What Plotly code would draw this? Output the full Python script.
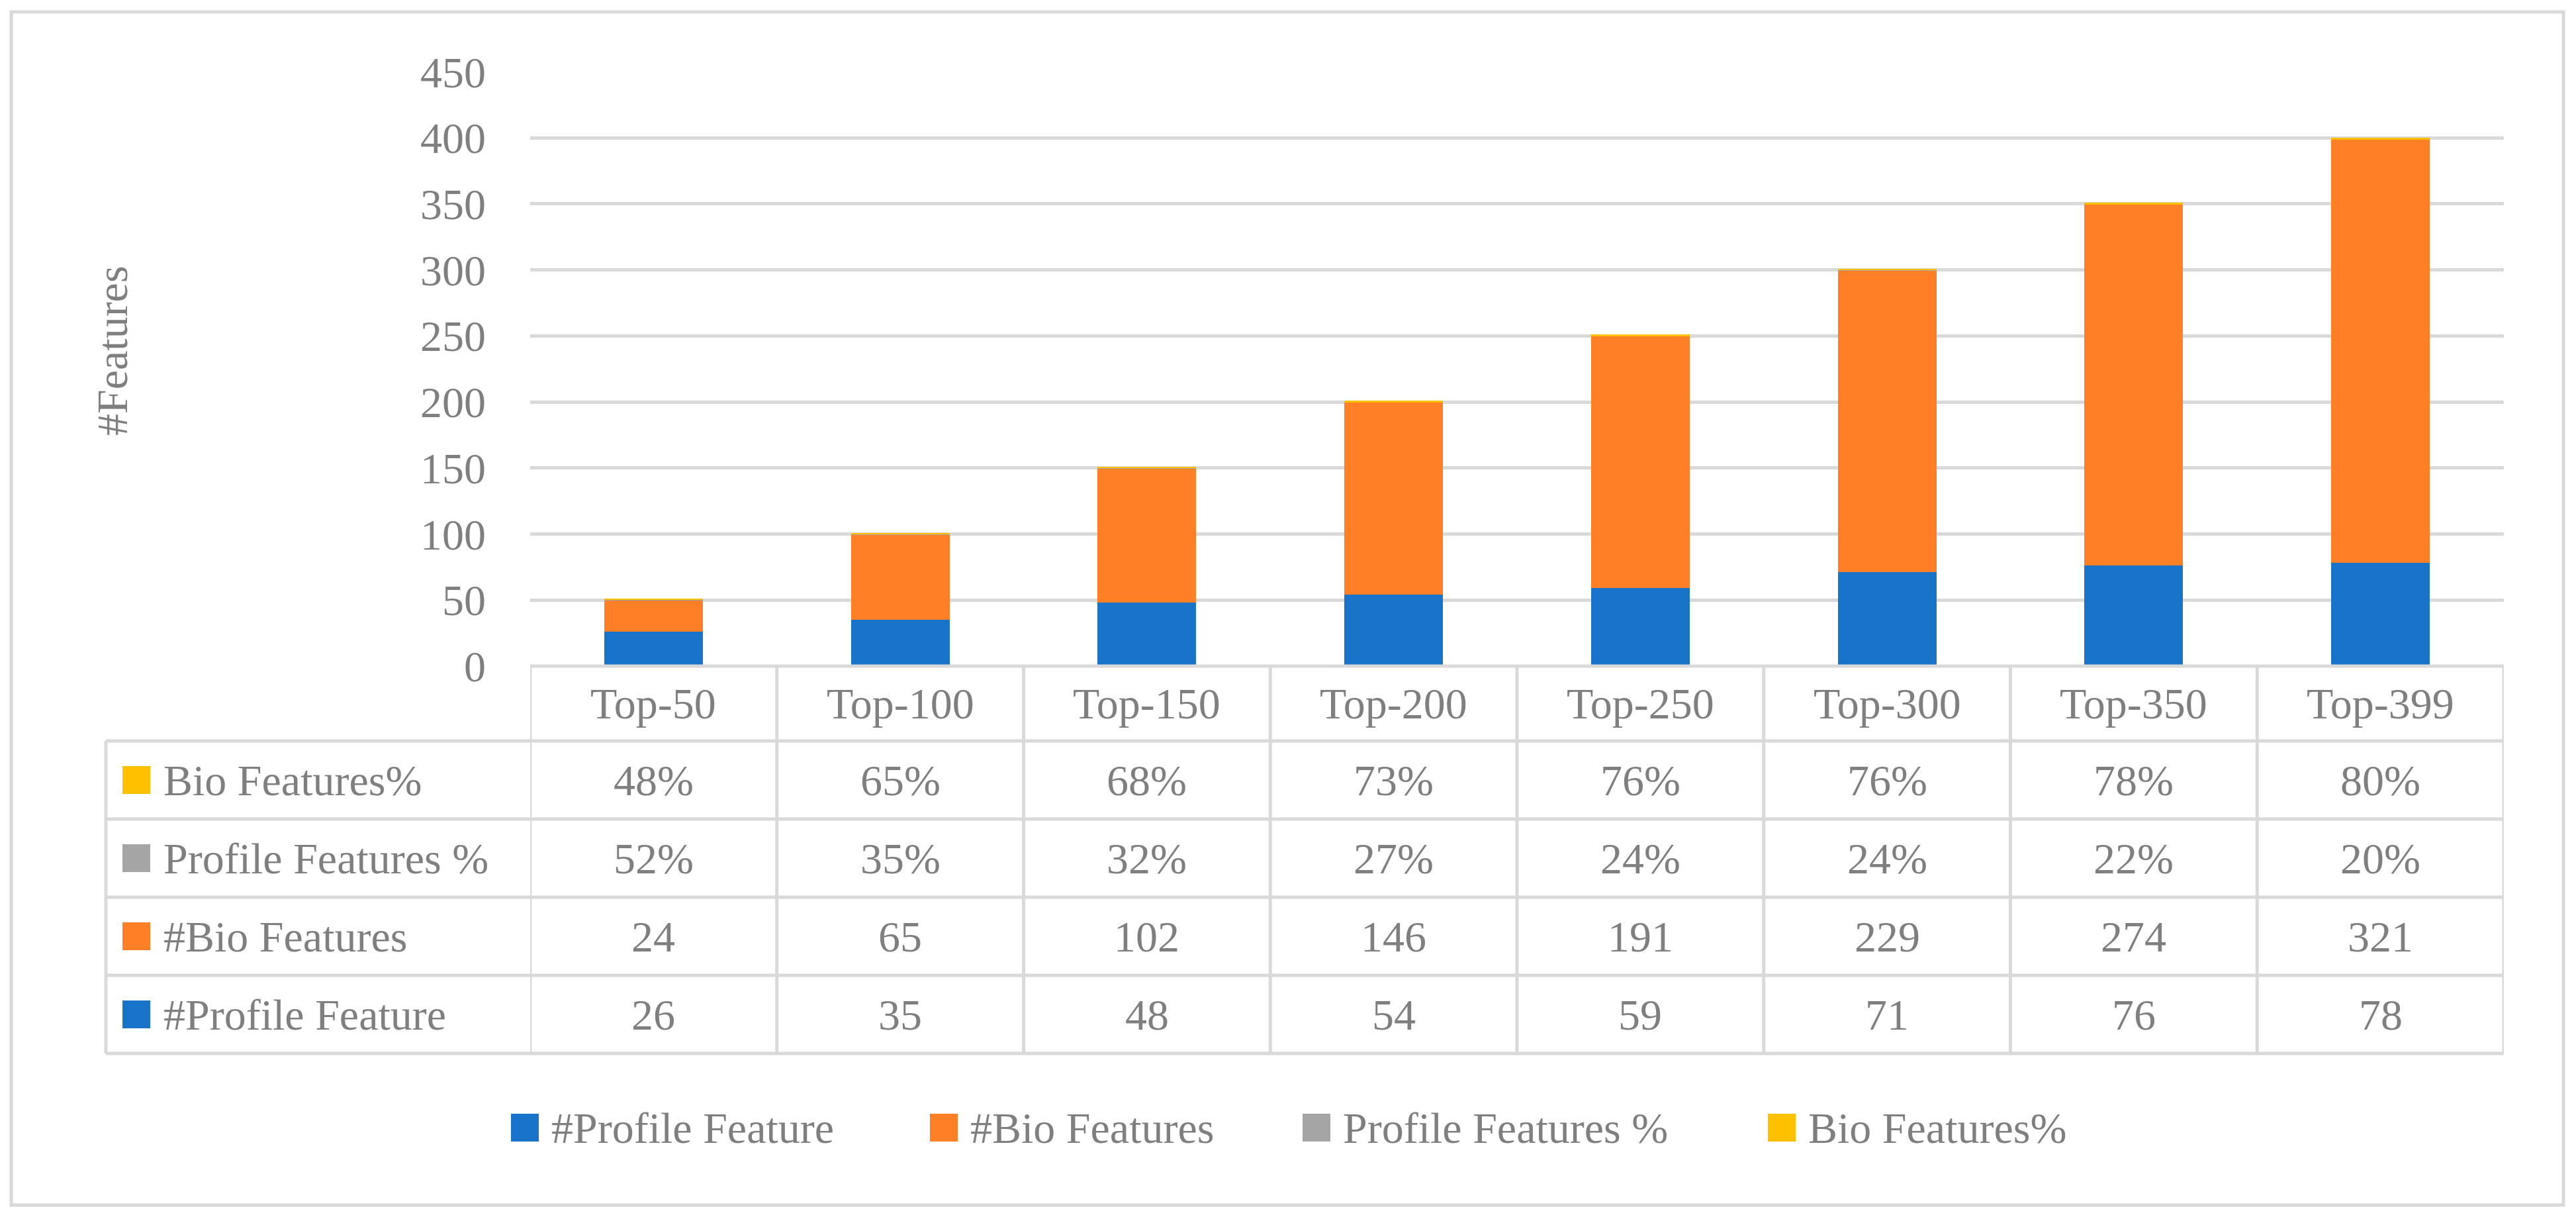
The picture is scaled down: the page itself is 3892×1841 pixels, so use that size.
import plotly.graph_objects as go

# ---------------- data ----------------
categories = ["Top-50", "Top-100", "Top-150", "Top-200", "Top-250", "Top-300", "Top-350", "Top-399"]
profile_count = [26, 35, 48, 54, 59, 71, 76, 78]
bio_count = [24, 65, 102, 146, 191, 229, 274, 321]
profile_pct = [0.52, 0.35, 0.32, 0.27, 0.24, 0.24, 0.22, 0.20]
bio_pct = [0.48, 0.65, 0.68, 0.73, 0.76, 0.76, 0.78, 0.80]
series_names = ["#Profile Feature", "#Bio Features", "Profile Features %", "Bio Features%"]
y_ticks = [0, 50, 100, 150, 200, 250, 300, 350, 400, 450]
y_title = "#Features"

# ---------------- style ----------------
# page body has an 8px margin, so the figure is sized to fit the window exactly
OFF = 8
W, H = 3892 - 2 * OFF, 1841 - 2 * OFF
FONT = "Liberation Serif"
FS = 66
TXT = "#7F7F7F"
GRID = "#D9D9D9"
colors = ["#1873C9", "#FF7F27", "#A5A5A5", "#FFC000"]
series_values = [profile_count, bio_count, profile_pct, bio_pct]
fmt = [lambda v: f"{v:d}", lambda v: f"{v:d}", lambda v: f"{v:.0%}", lambda v: f"{v:.0%}"]

# target positions in screenshot pixels
PX0, PX1 = 801, 3783           # plot area left / right
PY_TOP, PY_ZERO = 108.5, 1006  # y=450 and y=0
TABLE_LEFT = 160
ROW_EDGES = [1006, 1119, 1237, 1355, 1473, 1591]
KEY_X0, KEY_SIZE, LABEL_X = 185, 42, 245
LEGEND_Y = 1703
LEGEND_X = [772, 1405, 1968, 2671]
LINE_W = 5


def X(px):
    return (px - OFF) / W


def Y(py):
    return 1 - (py - OFF) / H


fig = go.Figure()
for name, vals, col in zip(series_names, series_values, colors):
    fig.add_trace(go.Bar(x=categories, y=vals, name=name, marker=dict(color=col, line=dict(width=0))))

fig.update_layout(
    width=W, height=H, autosize=False,
    margin=dict(l=0, r=0, t=0, b=0, pad=0, autoexpand=False),
    paper_bgcolor="white", plot_bgcolor="white",
    barmode="stack", bargap=0.6,
    showlegend=False,
    font=dict(family=FONT, size=FS, color=TXT),
)
fig.update_xaxes(
    domain=[X(PX0), X(PX1)], range=[-0.5, len(categories) - 0.5], automargin=False,
    showticklabels=False, showgrid=False, zeroline=False, showline=False, ticks="",
)
fig.update_yaxes(
    domain=[Y(PY_ZERO), Y(PY_TOP)], range=[0, 450], automargin=False,
    tickvals=y_ticks, ticktext=[str(v) for v in y_ticks],
    showgrid=True, gridcolor=GRID, gridwidth=LINE_W,
    zeroline=False, showline=False, ticks="",
    ticklabelstandoff=66, tickfont=dict(family=FONT, size=FS, color=TXT),
)

shapes = []
annotations = []

# outer chart border
shapes.append(dict(type="rect", xref="paper", yref="paper", x0=X(17), x1=X(3873), y0=Y(18), y1=Y(1820),
                   line=dict(color=GRID, width=LINE_W), fillcolor="rgba(0,0,0,0)", layer="below"))

# y-axis title
annotations.append(dict(text=y_title, xref="paper", yref="paper", x=X(169), y=Y(530), textangle=-90,
                        showarrow=False, xanchor="center", yanchor="middle", font=dict(size=FS, color=TXT, family=FONT)))

# ---------------- data table ----------------
n = len(categories)
shapes.append(dict(type="line", xref="x", yref="paper", x0=-0.5, x1=n - 0.5, y0=Y(ROW_EDGES[0]), y1=Y(ROW_EDGES[0]),
                   line=dict(color=GRID, width=LINE_W)))
for ry in ROW_EDGES[1:]:
    shapes.append(dict(type="line", xref="paper", yref="paper", x0=X(TABLE_LEFT), x1=X(PX1), y0=Y(ry), y1=Y(ry),
                       line=dict(color=GRID, width=LINE_W)))
shapes.append(dict(type="line", xref="paper", yref="paper", x0=X(TABLE_LEFT), x1=X(TABLE_LEFT),
                   y0=Y(ROW_EDGES[1]), y1=Y(ROW_EDGES[-1]), line=dict(color=GRID, width=LINE_W)))
for i in range(n + 1):
    shapes.append(dict(type="line", xref="x", yref="paper", x0=i - 0.5, x1=i - 0.5,
                       y0=Y(ROW_EDGES[0]), y1=Y(ROW_EDGES[-1]), line=dict(color=GRID, width=LINE_W)))

# header (category labels)
hy = (ROW_EDGES[0] + ROW_EDGES[1]) / 2
for c in categories:
    annotations.append(dict(text=c, xref="x", yref="paper", x=c, y=Y(hy), showarrow=False,
                            xanchor="center", yanchor="middle"))

# rows: top to bottom = reversed series order
row_order = [3, 2, 1, 0]
for r, si in enumerate(row_order):
    cy = (ROW_EDGES[r + 1] + ROW_EDGES[r + 2]) / 2
    shapes.append(dict(type="rect", xref="paper", yref="paper", x0=X(KEY_X0), x1=X(KEY_X0 + KEY_SIZE),
                       y0=Y(cy + KEY_SIZE / 2), y1=Y(cy - KEY_SIZE / 2),
                       fillcolor=colors[si], line=dict(width=0)))
    annotations.append(dict(text=series_names[si], xref="paper", yref="paper", x=X(LABEL_X), y=Y(cy),
                            showarrow=False, xanchor="left", yanchor="middle"))
    for c, v in zip(categories, series_values[si]):
        annotations.append(dict(text=fmt[si](v), xref="x", yref="paper", x=c, y=Y(cy), showarrow=False,
                                xanchor="center", yanchor="middle"))

# ---------------- legend ----------------
for lx, name, col in zip(LEGEND_X, series_names, colors):
    shapes.append(dict(type="rect", xref="paper", yref="paper", x0=X(lx), x1=X(lx + KEY_SIZE),
                       y0=Y(LEGEND_Y + KEY_SIZE / 2), y1=Y(LEGEND_Y - KEY_SIZE / 2),
                       fillcolor=col, line=dict(width=0)))
    annotations.append(dict(text=name, xref="paper", yref="paper", x=X(lx + KEY_SIZE + 17), y=Y(LEGEND_Y),
                            showarrow=False, xanchor="left", yanchor="middle"))

fig.update_layout(shapes=shapes, annotations=annotations)
fig.write_html("out.html")
